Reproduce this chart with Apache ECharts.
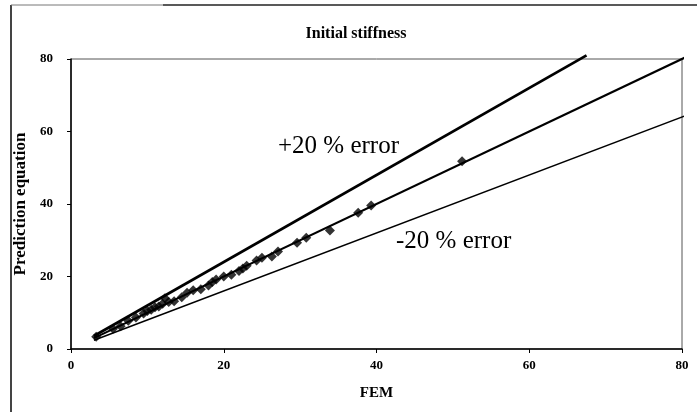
<!DOCTYPE html>
<html>
<head>
<meta charset="utf-8">
<script src="https://cdn.jsdelivr.net/npm/echarts@6/dist/echarts.min.js"></script>
<style>
html,body{margin:0;padding:0;background:#fff;}
#chart{width:697px;height:412px;}
</style>
</head>
<body>
<div id="chart"></div>
<script>
// FEM vs prediction equation (initial stiffness)
const femValues = [3.3, 5.5, 6.5, 7.5, 8.5, 9.5, 10, 10.5, 11, 11.5, 12, 12.3, 12.8, 13.5, 14.5, 15.2, 16, 17, 18, 18.5, 19, 20, 21, 22, 22.5, 23, 24.3, 25, 26.3, 27.1, 29.6, 30.8, 33.9, 37.6, 39.3, 51.2];
const predValues = [3.4, 5.6, 6.3, 7.8, 8.7, 9.8, 10.5, 10.8, 11.5, 11.7, 12.5, 14, 13, 13.2, 14.3, 15.5, 16.2, 16.5, 17.5, 18.5, 19.2, 20, 20.5, 21.5, 22.2, 23, 24.4, 25.2, 25.5, 26.9, 29.3, 30.7, 32.7, 37.6, 39.6, 51.8];
// reference lines (start, end) in FEM units
const lineX = [3, 81];
const plusLineX = [3, 67.5];
const minusLineX = [3, 81];
const plusFactor = 1.2;
const minusFactor = 0.8;
const xTicks = [0, 20, 40, 60, 80];
const yTicks = [0, 20, 40, 60, 80];

const points = femValues.map((x, i) => [x, predValues[i]]);
const ideal = lineX.map(x => [x, x]);
const plus = plusLineX.map(x => [x, x * plusFactor]);
const minus = minusLineX.map(x => [x, x * minusFactor]);

const serif = '"Liberation Serif", "DejaVu Serif", serif';
const chart = echarts.init(document.getElementById('chart'));
chart.setOption({
  animation: false,
  backgroundColor: '#fff',
  title: {
    text: 'Initial stiffness',
    left: 351, top: 21, textAlign: 'center',
    textStyle: {fontFamily: serif, fontWeight: 'bold', fontSize: 16, color: '#000'}
  },
  grid: {left: 71, right: 15, top: 59, bottom: 63, show: true, borderColor: '#555', borderWidth: 1},
  xAxis: {
    type: 'value', min: xTicks[0], max: xTicks[xTicks.length - 1], interval: 20,
    name: 'FEM', nameLocation: 'middle', nameGap: 37,
    nameTextStyle: {fontFamily: serif, fontWeight: 'bold', fontSize: 15, color: '#000'},
    axisLine: {show: true, lineStyle: {color: '#000', width: 1.5}},
    axisTick: {show: true, length: 4, lineStyle: {color: '#000'}},
    axisLabel: {fontFamily: serif, fontWeight: 'bold', fontSize: 13, color: '#000', margin: 10,
      formatter: v => xTicks.includes(v) ? String(v) : ''},
    splitLine: {show: false}
  },
  yAxis: {
    type: 'value', min: yTicks[0], max: yTicks[yTicks.length - 1], interval: 20,
    name: 'Prediction equation', nameLocation: 'middle', nameGap: 40, nameRotate: 90,
    nameTextStyle: {fontFamily: serif, fontWeight: 'bold', fontSize: 17, color: '#000'},
    axisLine: {show: true, lineStyle: {color: '#000', width: 1.5}},
    axisTick: {show: true, length: 4, lineStyle: {color: '#000'}},
    axisLabel: {fontFamily: serif, fontWeight: 'bold', fontSize: 13, color: '#000', margin: 18,
      formatter: v => yTicks.includes(v) ? String(v) : ''},
    splitLine: {show: false}
  },
  series: [
    {type: 'line', data: plus, symbol: 'none', lineStyle: {color: '#000', width: 2.8}, clip: false, z: 2},
    {type: 'line', data: ideal, symbol: 'none', lineStyle: {color: '#000', width: 2.2}, clip: false, z: 2},
    {type: 'line', data: minus, symbol: 'none', lineStyle: {color: '#000', width: 1.6}, clip: false, z: 2},
    {type: 'scatter', data: points, symbol: 'diamond', symbolSize: 10, itemStyle: {color: '#000'}, z: 3}
  ],
  graphic: [
    {type: 'line', shape: {x1: 11, y1: 5, x2: 11, y2: 412}, style: {stroke: '#444', lineWidth: 2}},
    {type: 'line', shape: {x1: 11, y1: 5, x2: 163, y2: 5}, style: {stroke: '#777', lineWidth: 1}},
    {type: 'line', shape: {x1: 163, y1: 5, x2: 697, y2: 5}, style: {stroke: '#222', lineWidth: 1.5}},
    {type: 'text', left: 278, top: 134, style: {text: '+20 % error', fontFamily: serif, fontSize: 25, fill: '#000'}},
    {type: 'text', left: 396, top: 229, style: {text: '-20 % error', fontFamily: serif, fontSize: 25, fill: '#000'}}
  ]
});
</script>
</body>
</html>
